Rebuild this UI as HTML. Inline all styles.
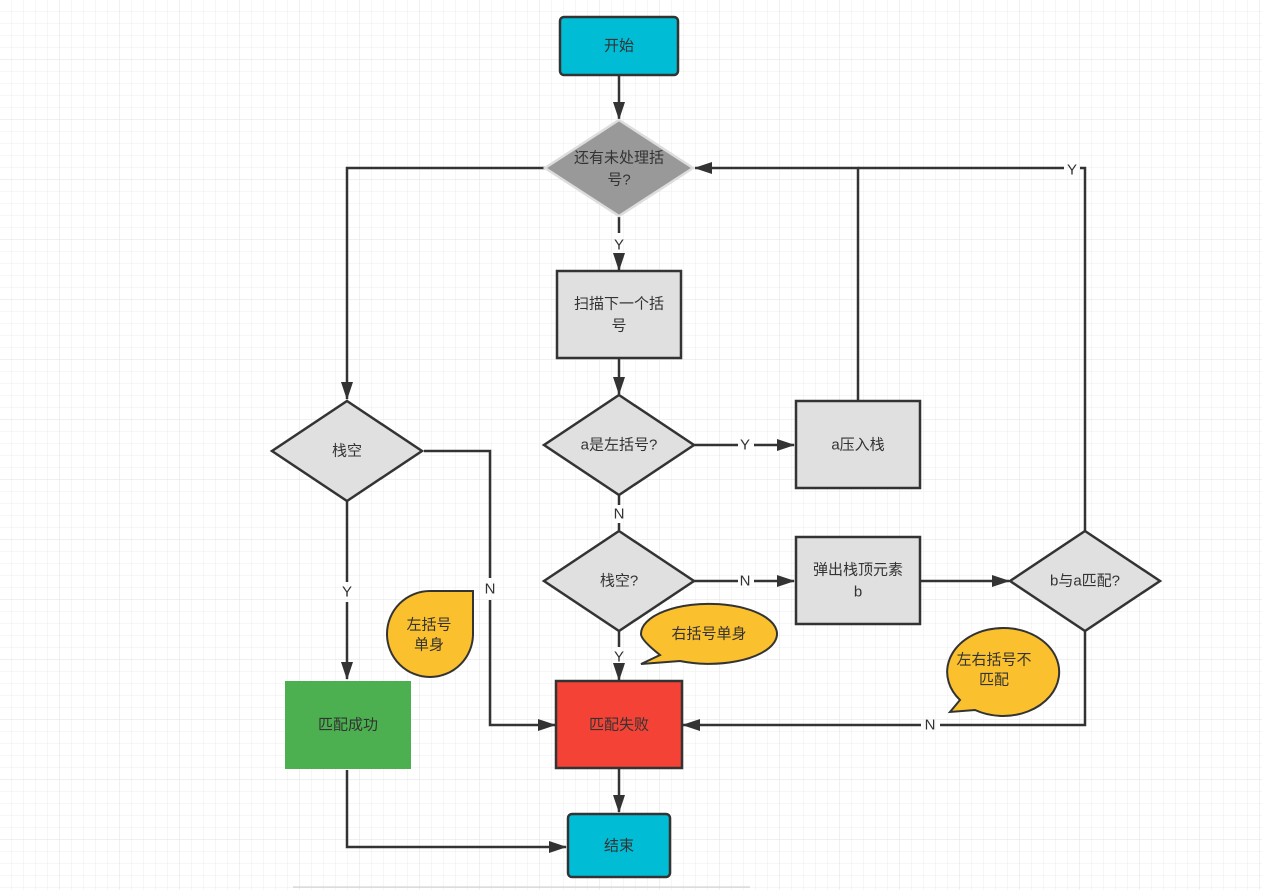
<!DOCTYPE html>
<html><head><meta charset="utf-8"><style>
html,body{margin:0;padding:0;background:#fff;}
svg{display:block;font-family:"Liberation Sans","Noto Sans CJK SC",sans-serif;}
text{font-size:15px;fill:#333;text-anchor:middle;dominant-baseline:central;}
</style></head><body>
<svg width="1262" height="890" viewBox="0 0 1262 890" xmlns="http://www.w3.org/2000/svg">
<defs>
<pattern id="g" width="12" height="12" patternUnits="userSpaceOnUse"><path d="M12 0V12M0 12H12" stroke="#ececec" stroke-width="1" fill="none"/></pattern>
<pattern id="G" width="60" height="60" patternUnits="userSpaceOnUse"><rect width="60" height="60" fill="url(#g)"/><path d="M60 0V60M0 60H60" stroke="#e2e2e2" stroke-width="1" fill="none"/></pattern>
<marker id="a" markerWidth="10" markerHeight="10" refX="9" refY="5" orient="auto" markerUnits="userSpaceOnUse"><path d="M0,0 L10,5 L0,10 Z" fill="#333"/></marker>
<marker id="b" markerWidth="18" markerHeight="12" refX="17" refY="6" orient="auto" markerUnits="userSpaceOnUse"><path d="M0,0 L18,6 L0,12 Z" fill="#333"/></marker>
</defs>
<rect width="1262" height="890" fill="url(#G)"/>
<g stroke="#333" stroke-width="2.5" fill="none">
<path d="M619 76V119" marker-end="url(#b)"/>
<path d="M619 217V233M619 256V270" marker-end="url(#b)"/>
<path d="M619 359V394" marker-end="url(#b)"/>
<path d="M694 445H738M754 445H794" marker-end="url(#b)"/>
<path d="M858 401V168H695" marker-end="url(#b)"/>
<path d="M1085 531V168H1080M1064 168H858"/>
<path d="M619 495V505M619 523V530"/>
<path d="M694 581H738M754 581H794" marker-end="url(#b)"/>
<path d="M921 581H1009" marker-end="url(#b)"/>
<path d="M1085 631V725H940M921 725H683" marker-end="url(#b)"/>
<path d="M619 631V647M619 667V680" marker-end="url(#b)"/>
<path d="M619 769V812" marker-end="url(#b)"/>
<path d="M545 168H347V399" marker-end="url(#b)"/>
<path d="M347 501V582M347 602V679" marker-end="url(#b)"/>
<path d="M347 770V847H566" marker-end="url(#b)"/>
<path d="M424 451H490V578M490 600V725H555" marker-end="url(#b)"/>
</g>
<rect x="560" y="17" width="118" height="58" rx="4" fill="#00bcd4" stroke="#333" stroke-width="2.5"/>
<text x="619" y="46">开始</text>
<path d="M619 120L693 168L619 216L545 168Z" fill="#999" stroke="#ddd" stroke-width="2.5"/>
<text x="619" y="158">还有未处理括</text><text x="619" y="180">号?</text>
<text x="619" y="245">Y</text>
<rect x="557" y="271" width="124" height="87" fill="#e0e0e0" stroke="#333" stroke-width="2.5"/>
<text x="619" y="304">扫描下一个括</text><text x="619" y="326">号</text>
<path d="M619 395L694 445L619 495L544 445Z" fill="#e0e0e0" stroke="#333" stroke-width="2.5"/>
<text x="619" y="445">a是左括号?</text>
<text x="745" y="445">Y</text>
<rect x="796" y="401" width="124" height="87" fill="#e0e0e0" stroke="#333" stroke-width="2.5"/>
<text x="858" y="445">a压入栈</text>
<text x="1072" y="170">Y</text>
<text x="619" y="514">N</text>
<path d="M619 531L694 581L619 631L544 581Z" fill="#e0e0e0" stroke="#333" stroke-width="2.5"/>
<text x="619" y="581">栈空?</text>
<text x="745" y="581">N</text>
<rect x="796" y="537" width="124" height="87" fill="#e0e0e0" stroke="#333" stroke-width="2.5"/>
<text x="858" y="570">弹出栈顶元素</text><text x="858" y="592">b</text>
<path d="M1085 531L1160 581L1085 631L1010 581Z" fill="#e0e0e0" stroke="#333" stroke-width="2.5"/>
<text x="1085" y="581">b与a匹配?</text>
<text x="930" y="725">N</text>
<rect x="556" y="681" width="126" height="87" fill="#f44336" stroke="#333" stroke-width="2.5"/>
<text x="619" y="725">匹配失败</text>
<text x="619" y="657">Y</text>
<rect x="568" y="814" width="102" height="63" rx="4" fill="#00bcd4" stroke="#333" stroke-width="2.5"/>
<text x="619" y="846">结束</text>
<path d="M347 401L422 451L347 501L272 451Z" fill="#e0e0e0" stroke="#333" stroke-width="2.5"/>
<text x="347" y="451">栈空</text>
<text x="347" y="592">Y</text>
<text x="490" y="589">N</text>
<rect x="285" y="681" width="126" height="88" fill="#4caf50"/>
<text x="348" y="725">匹配成功</text>
<path d="M430 591L473 591L473 634A43 43 0 1 1 430 591Z" fill="#fbc02d" stroke="#333" stroke-width="2"/>
<text x="429" y="625">左括号</text><text x="429" y="645">单身</text>
<path d="M660 655Q641 640 641 634A68 30 0 1 1 680 661L641 664Z" fill="#fbc02d" stroke="#333" stroke-width="2"/>
<text x="709" y="634">右括号单身</text>
<path d="M960 700A56 44 0 1 1 975 710L950 712Z" fill="#fbc02d" stroke="#333" stroke-width="2"/>
<text x="994" y="660">左右括号不</text><text x="994" y="680">匹配</text>
<path d="M293 887H750" stroke="#ccc" stroke-width="1"/>
</svg>
</body></html>
